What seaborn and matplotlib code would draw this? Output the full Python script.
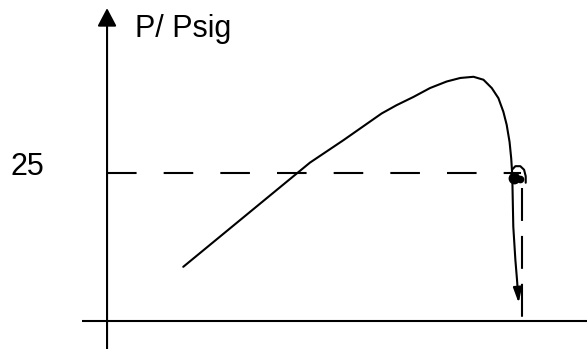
import matplotlib
matplotlib.use("Agg")
import matplotlib.pyplot as plt
import seaborn as sns
import pandas as pd

# Pressure characteristic: rises with flow, peaks, then collapses
flow = [18.4, 49.0, 57.1, 66.3, 69.9, 74.0, 78.0, 82.0, 85.3, 88.5, 90.9,
        92.9, 94.5, 95.7, 96.5, 97.2, 97.6, 97.8, 97.9, 98.1, 98.6, 99.0]
pressure = [9.1, 26.7, 30.5, 35.0, 36.4, 37.8, 39.3, 40.4, 41.0, 41.2, 40.7,
            39.3, 37.6, 35.3, 33.1, 30.2, 27.4, 25.2, 22.9, 15.9, 10.3, 6.9]
arrow_tip = (99.4, 3.0)

# Small scribble where the curve meets the signal level
loop_flow = [97.8, 98.6, 99.8, 100.7, 101.1, 101.1]
loop_pressure = [25.5, 26.1, 26.1, 25.5, 24.4, 23.3]
knot_flow = [98.2, 99.6]
knot_pressure = [24.1, 24.0]

p_sig = 25
flow_at_sig = 100
y_label = "P/ Psig"
tick_label = "25"

sns.set_theme(style="white")
plt.rcParams["font.family"] = ["Liberation Sans", "DejaVu Sans"]

fig = plt.figure(figsize=(5.87, 3.49), dpi=100)
ax = fig.add_axes([0, 0, 1, 1])
ax.set_xlim(-25.85, 115.9)
ax.set_ylim(-4.78, 54.17)
ax.axis("off")

lw = 1.5
ink = "black"

# Axes drawn as plain lines, y-axis with an arrowhead
ax.plot([-6.0, 115.9], [0, 0], color=ink, lw=lw, solid_capstyle="butt")
ax.annotate("", xy=(0, 52.8), xytext=(0, -4.78),
            arrowprops=dict(arrowstyle="-|>,head_length=11,head_width=5.8",
                            mutation_scale=1, color=ink, lw=lw,
                            shrinkA=0, shrinkB=0))

# Signal-level guides
ax.plot([0, flow_at_sig], [p_sig, p_sig], color=ink, lw=lw,
        linestyle=(0, (14.2, 13)))
ax.plot([flow_at_sig + 0.3, flow_at_sig + 0.3], [22.4, 0], color=ink,
        lw=lw, linestyle=(0, (15.8, 7.2)))

# Characteristic curve
df = pd.DataFrame({"flow": flow, "pressure": pressure})
sns.lineplot(data=df, x="flow", y="pressure", sort=False, color=ink,
             lw=lw, ax=ax, estimator=None)
ax.annotate("", xy=arrow_tip, xytext=(flow[-1], pressure[-1]),
            arrowprops=dict(arrowstyle="-|>,head_length=9,head_width=2.6",
                            mutation_scale=1, color=ink, lw=lw,
                            shrinkA=0, shrinkB=0))

ax.plot(loop_flow, loop_pressure, color=ink, lw=lw)
ax.plot(knot_flow[:1], knot_pressure[:1], marker="o", markersize=7.5,
        color=ink, lw=0)
ax.plot(knot_flow[1:], knot_pressure[1:], marker="o", markersize=4.5,
        color=ink, lw=0)

ax.set_xlabel("")
ax.set_ylabel("")

fig.text(135 / 587, 1 - 36.7 / 349, y_label, fontsize=22, va="baseline",
         ha="left", color=ink)
fig.text(10 / 587, 1 - 175 / 349, tick_label, fontsize=22, va="baseline",
         ha="left", color=ink)

fig.savefig("out.png", dpi=100, facecolor="white")
